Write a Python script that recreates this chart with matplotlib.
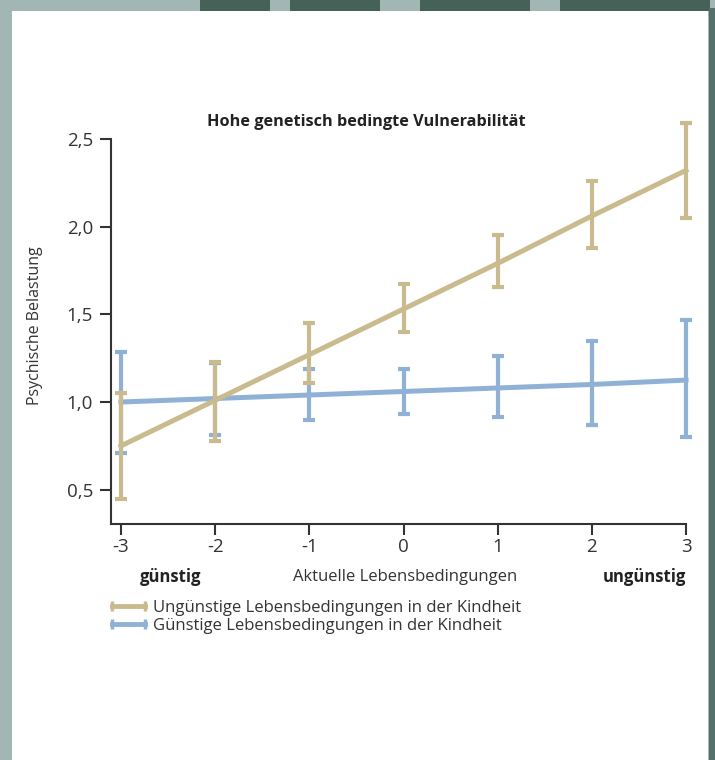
import matplotlib
matplotlib.use('Agg')
import matplotlib.pyplot as plt
from matplotlib.lines import Line2D
from matplotlib.patches import Rectangle

plt.rcParams['font.family'] = ['Open Sans', 'DejaVu Sans']

# Aktuelle Lebensbedingungen (x) und psychische Belastung (y)
x_vals = [-3, -2, -1, 0, 1, 2, 3]

# ungünstige Kindheit (beige)
bad_mean = [0.75, 1.01, 1.27, 1.53, 1.79, 2.06, 2.32]
bad_low = [0.45, 0.78, 1.11, 1.40, 1.655, 1.88, 2.05]
bad_high = [1.05, 1.23, 1.45, 1.67, 1.95, 2.26, 2.59]

# günstige Kindheit (blau)
good_mean = [1.0, 1.02, 1.04, 1.06, 1.08, 1.10, 1.125]
good_low = [0.71, 0.81, 0.90, 0.93, 0.915, 0.87, 0.80]
good_high = [1.285, 1.22, 1.19, 1.19, 1.26, 1.35, 1.47]

y_ticks = [0.5, 1.0, 1.5, 2.0, 2.5]
y_tick_labels = ['0,5', '1,0', '1,5', '2,0', '2,5']

title = 'Hohe genetisch bedingte Vulnerabilität'
series_labels = ['Ungünstige Lebensbedingungen in der Kindheit',
                 'Günstige Lebensbedingungen in der Kindheit']

BEIGE = '#c9bb8e'
BLUE = '#90b1d6'
DARK = '#333333'


def err(mean, low, high):
    return [[m - lo for m, lo in zip(mean, low)],
            [hi - m for m, hi in zip(mean, high)]]


fig = plt.figure(figsize=(7.15, 7.6), dpi=100, facecolor='#a2b7b4')

# card background
fig.patches.append(Rectangle((12 / 715, 0), 696 / 715, 749 / 760,
                             transform=fig.transFigure, facecolor='white',
                             edgecolor='none', zorder=-2))
# dark decoration at top and right
for x0, w in [(200, 70), (290, 90), (420, 110), (560, 150)]:
    fig.patches.append(Rectangle((x0 / 715, 749 / 760), w / 715, 11 / 760,
                                 transform=fig.transFigure,
                                 facecolor='#466258', edgecolor='none',
                                 zorder=-2))
fig.patches.append(Rectangle((709 / 715, 0.0), 6 / 715, 0.99,
                             transform=fig.transFigure, facecolor='#55706a',
                             edgecolor='none', zorder=-2))

ax = fig.add_axes([111 / 715, 236 / 760, 585 / 715, 406.3 / 760])
ax.set_zorder(2)
ax.set_facecolor('none')

ax.errorbar(x_vals, good_mean, yerr=err(good_mean, good_low, good_high),
            color=BLUE, lw=3.6, elinewidth=3, capsize=4, capthick=3,
            clip_on=False, zorder=3)
ax.errorbar(x_vals, bad_mean, yerr=err(bad_mean, bad_low, bad_high),
            color=BEIGE, lw=3.6, elinewidth=3, capsize=4, capthick=3,
            clip_on=False, zorder=4)

ax.set_xlim(-3.106, 3.106)
ax.set_ylim(0.305, 2.62)
ax.set_xticks(x_vals)
ax.set_xticklabels([str(v) for v in x_vals], fontsize=13.5, color=DARK)
ax.set_yticks(y_ticks)
ax.set_yticklabels(y_tick_labels, fontsize=13.5, color=DARK)
ax.tick_params(length=8, width=1.5, color=DARK)
ax.tick_params(axis='y', pad=5)
ax.tick_params(axis='x', pad=2)

for side in ['top', 'right']:
    ax.spines[side].set_visible(False)
for side in ['left', 'bottom']:
    ax.spines[side].set_linewidth(1.5)
    ax.spines[side].set_color(DARK)
ax.spines['left'].set_bounds(0.305, 2.5)
ax.spines['bottom'].set_bounds(-3.106, 3)

fig.text(366 / 715, 1 - 122 / 760, title, fontsize=11.7, fontweight='bold',
         color='#222222', ha='center', va='center')
fig.text(35 / 715, 1 - 326 / 760, 'Psychische Belastung', fontsize=11.5,
         rotation=90, ha='center', va='center', color=DARK)
fig.text(405 / 715, 1 - 577 / 760, 'Aktuelle Lebensbedingungen',
         fontsize=12, ha='center', va='center', color=DARK)
fig.text(140 / 715, 1 - 577 / 760, 'günstig', fontsize=12,
         fontweight='bold', ha='left', va='center', color='#222222')
fig.text(686 / 715, 1 - 577 / 760, 'ungünstig', fontsize=12,
         fontweight='bold', ha='right', va='center', color='#222222')

handles = [Line2D([], [], color=BEIGE, lw=3.5, marker='|', markersize=7,
                  mew=2.5),
           Line2D([], [], color=BLUE, lw=3.5, marker='|', markersize=7,
                  mew=2.5)]
fig.legend(handles, series_labels, loc='upper left',
           bbox_to_anchor=(107 / 715, 1 - 600 / 760), frameon=False,
           numpoints=2, fontsize=12, handlelength=2.6, handletextpad=0.15,
           labelspacing=0.1, borderpad=0, borderaxespad=0,
           labelcolor=DARK)

fig.savefig('out.png', dpi=100, facecolor=fig.get_facecolor())
